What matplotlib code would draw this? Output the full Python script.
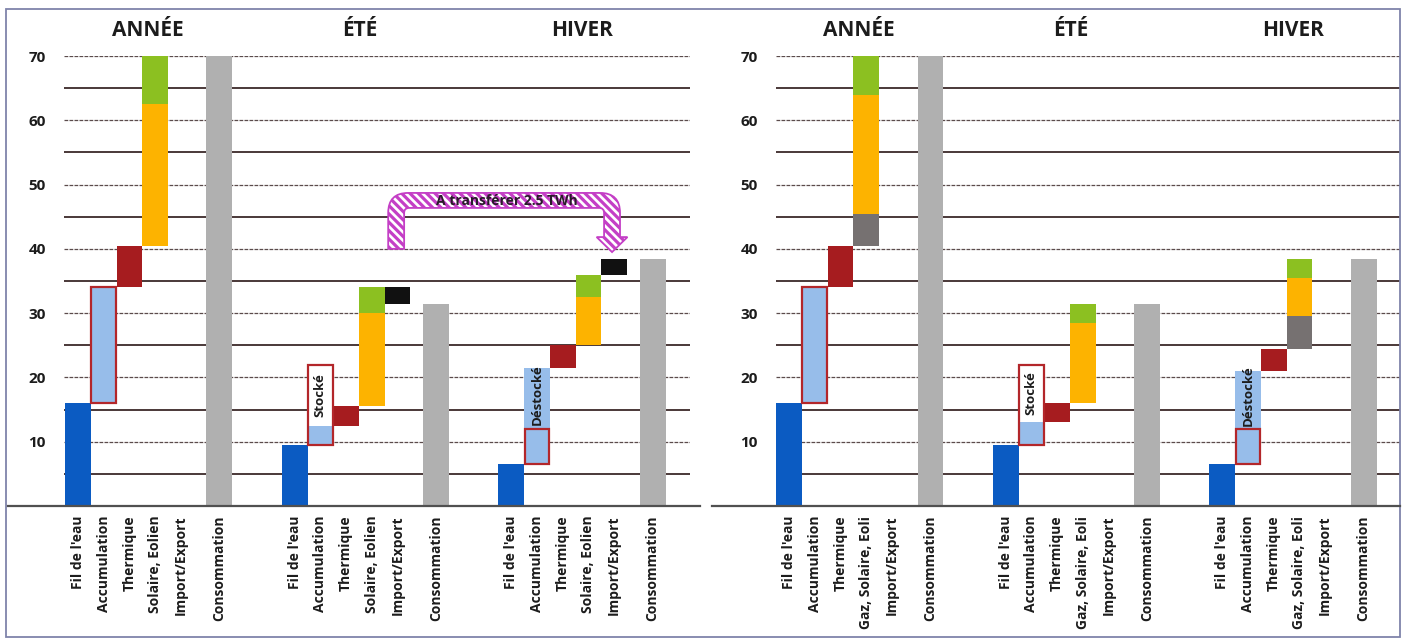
import matplotlib
matplotlib.use('Agg')
import matplotlib.pyplot as plt
from matplotlib.patches import Rectangle, PathPatch
from matplotlib.path import Path
from matplotlib.lines import Line2D
import numpy as np

plt.rcParams['font.family'] = ['Open Sans', 'DejaVu Sans']
plt.rcParams['hatch.linewidth'] = 2.3

# ---------------- data (TWh) ----------------
seasons = ['ANNÉE', 'ÉTÉ', 'HIVER']
cats_left = ["Fil de l'eau", 'Accumulation', 'Thermique', 'Solaire, Eolien',
             'Import/Export', 'Consommation']
cats_right = ["Fil de l'eau", 'Accumulation', 'Thermique', 'Gaz, Solaire, Eoli',
              'Import/Export', 'Consommation']
y_ticks = [10, 20, 30, 40, 50, 60, 70]

# left scenario: values per season [ANNÉE, ÉTÉ, HIVER]
L_fil = [16, 9.5, 6.5]
L_accu = [18, 3, 5.5]
L_stock = [0, 9.5, 0]
L_destock = [0, 0, 9.5]
L_therm = [6.5, 3, 3.5]
L_gaz = [0, 0, 0]
L_sol = [22, 14.5, 7.5]
L_eol = [7.5, 4, 3.5]
L_imp = [0, -2.5, 2.5]
L_conso = [70, 31.5, 38.5]

# right scenario
R_fil = [16, 9.5, 6.5]
R_accu = [18, 3.5, 5.5]
R_stock = [0, 9, 0]
R_destock = [0, 0, 9]
R_therm = [6.5, 3, 3.5]
R_gaz = [5, 0, 5]
R_sol = [18.5, 12.5, 6]
R_eol = [6, 3, 3]
R_imp = [0, 0, 0]
R_conso = [70, 31.5, 38.5]

transfer = 2.5

# ---------------- style ----------------
C_FIL = '#0B5BC2'
C_ACC = '#97BDEA'
C_THERM = '#A61C1F'
C_GAZ = '#767171'
C_SOL = '#FDB300'
C_EOL = '#8CC021'
C_IMP = '#111111'
C_CONS = '#B0B0B0'
C_BOX = '#B3262A'
C_ARROW = '#C43FC6'
TXT = '#1c1c1c'

W, H = 1411, 640
fig = plt.figure(figsize=(W / 100, H / 100), dpi=100)

SLOT = 25.7
inner = [0, 1, 2, 3, 4, 5.5]
group_off = [0, 8.43, 16.86]
title_off = [2.72, 2.55, 2.75]


def px(x, y, w, h):
    return [x / W, 1 - (y + h) / H, w / W, h / H]


def draw_panel(ax, cats, fil, accu, stock, destock, therm, gaz, sol, eol, imp, conso, xl0):
    width_px = ax.get_position().width * W
    ax.set_xlim(xl0, xl0 + width_px / SLOT)
    ax.set_ylim(0, 70)
    x0, x1 = ax.get_xlim()
    for v in range(5, 71, 5):
        if v % 10 == 0:
            ax.plot([x0, x1], [v, v], color='#5b4b4b', lw=0.9, ls=(0, (3, 1)), zorder=0.5)
        else:
            ax.plot([x0, x1], [v, v], color='#4a3838', lw=1.4, zorder=0.5)
    ticks, labels = [], []
    for g in range(3):
        xs = [group_off[g] + p for p in inner]
        ticks += xs
        labels += cats
        level = 0
        ax.bar(xs[0], fil[g], bottom=level, width=1.0, color=C_FIL, zorder=2)
        level += fil[g]
        # accumulation
        ax.bar(xs[1], accu[g], bottom=level, width=1.0, color=C_ACC, zorder=2)
        if stock[g] > 0:
            ax.bar(xs[1], stock[g], bottom=level + accu[g], width=1.0, color='white', zorder=2)
            ax.text(xs[1], level + accu[g] + stock[g] / 2, 'Stocké', rotation=90, ha='center',
                    va='center', fontsize=9.5, fontweight='bold', color=TXT, zorder=5)
        ax.bar(xs[1], accu[g] + stock[g], bottom=level, width=0.95, fill=False,
               edgecolor=C_BOX, lw=1.6, zorder=3)
        level += accu[g]
        if destock[g] > 0:
            ax.bar(xs[1], destock[g], bottom=level, width=1.0, color=C_ACC, zorder=2)
            ax.text(xs[1], level + destock[g] / 2 + 0.6, 'Déstocké', rotation=90, ha='center',
                    va='center', fontsize=9.5, fontweight='bold', color=TXT, zorder=5)
            level += destock[g]
        ax.bar(xs[2], therm[g], bottom=level, width=1.0, color=C_THERM, zorder=2)
        level += therm[g]
        for val, col in ((gaz[g], C_GAZ), (sol[g], C_SOL), (eol[g], C_EOL)):
            if val:
                ax.bar(xs[3], val, bottom=level, width=1.0, color=col, zorder=2)
                level += val
        if imp[g]:
            ax.bar(xs[4], imp[g], bottom=level, width=1.0, color=C_IMP, zorder=2)
            level += imp[g]
        ax.bar(xs[5], conso[g], bottom=0, width=1.0, color=C_CONS, zorder=2)
        ax.text(group_off[g] + title_off[g], 74.0, seasons[g], ha='center', va='center',
                fontsize=15, fontweight='bold', color=TXT, clip_on=False)
    ax.set_xticks(ticks)
    ax.set_xticklabels(labels, rotation=90, fontsize=10, fontweight='bold', color=TXT)
    ax.set_yticks(y_ticks)
    ax.set_yticklabels([str(t) for t in y_ticks], fontsize=11, fontweight='bold', color=TXT)
    ax.tick_params(axis='both', length=0)
    ax.tick_params(axis='x', pad=7)
    ax.tick_params(axis='y', pad=13)
    for s in ax.spines.values():
        s.set_visible(False)
    ax.patch.set_alpha(0)


axL = fig.add_axes(px(64, 56, 626, 450))
draw_panel(axL, cats_left, L_fil, L_accu, L_stock, L_destock, L_therm, L_gaz, L_sol,
           L_eol, L_imp, L_conso, -14 / SLOT)
axR = fig.add_axes(px(776, 56, 624, 450))
draw_panel(axR, cats_right, R_fil, R_accu, R_stock, R_destock, R_therm, R_gaz, R_sol,
           R_eol, R_imp, R_conso, -13 / SLOT)

# transfer arrow (left panel, from summer export to winter import)
ry_scale = 450 / 70.0  # px per data unit in y


def arrow_path(xa, xb, yb, ytop, ytip):
    lw = 0.62            # leg width (x units)
    t = 15 / ry_scale    # band thickness
    Rx, Ry = 20 / SLOT, 20 / ry_scale
    rx, ry = 5 / SLOT, 5 / ry_scale
    hw = 0.6
    yh = ytip + 15 / ry_scale
    a0, a1 = xa - lw / 2, xa + lw / 2
    b0, b1 = xb - lw / 2, xb + lw / 2
    verts = [
        (a0, yb), (a0, ytop - Ry), (a0, ytop), (a0 + Rx, ytop),
        (b1 - Rx, ytop), (b1, ytop), (b1, ytop - Ry),
        (b1, yh), (xb + hw, yh), (xb, ytip), (xb - hw, yh), (b0, yh),
        (b0, ytop - t - ry), (b0, ytop - t), (b0 - rx, ytop - t),
        (a1 + rx, ytop - t), (a1, ytop - t), (a1, ytop - t - ry),
        (a1, yb), (a0, yb)]
    codes = [Path.MOVETO, Path.LINETO, Path.CURVE3, Path.CURVE3,
             Path.LINETO, Path.CURVE3, Path.CURVE3,
             Path.LINETO, Path.LINETO, Path.LINETO, Path.LINETO, Path.LINETO,
             Path.LINETO, Path.CURVE3, Path.CURVE3,
             Path.LINETO, Path.CURVE3, Path.CURVE3,
             Path.LINETO, Path.CLOSEPOLY]
    return Path(verts, codes)


xa = group_off[1] + inner[4] - 0.05
xb = group_off[2] + inner[4] - 0.08
arr = PathPatch(arrow_path(xa, xb, 40.0, 48.7, 39.5), facecolor='white',
                edgecolor=C_ARROW, hatch='\\\\\\\\', lw=1.3, zorder=4)
axL.add_patch(arr)
axL.text((xa + xb) / 2 + 0.1, 47.5, f'A transférer {transfer} TWh', ha='center', va='center',
         fontsize=10, fontweight='bold', color='#2a1a2a', zorder=5)

# extended x-axis lines
for xa_px, xb_px in ((8, 700), (712, 1400)):
    fig.add_artist(Line2D([xa_px / W, xb_px / W], [1 - 506 / H, 1 - 506 / H],
                          color='#505050', lw=1.6))

# outer frame
fig.add_artist(Rectangle((6 / W, 1 - 637 / H), 1394 / W, 628 / H, transform=fig.transFigure,
                         fill=False, edgecolor='#7f84aa', lw=1.3))

fig.savefig('out.png', dpi=100)
